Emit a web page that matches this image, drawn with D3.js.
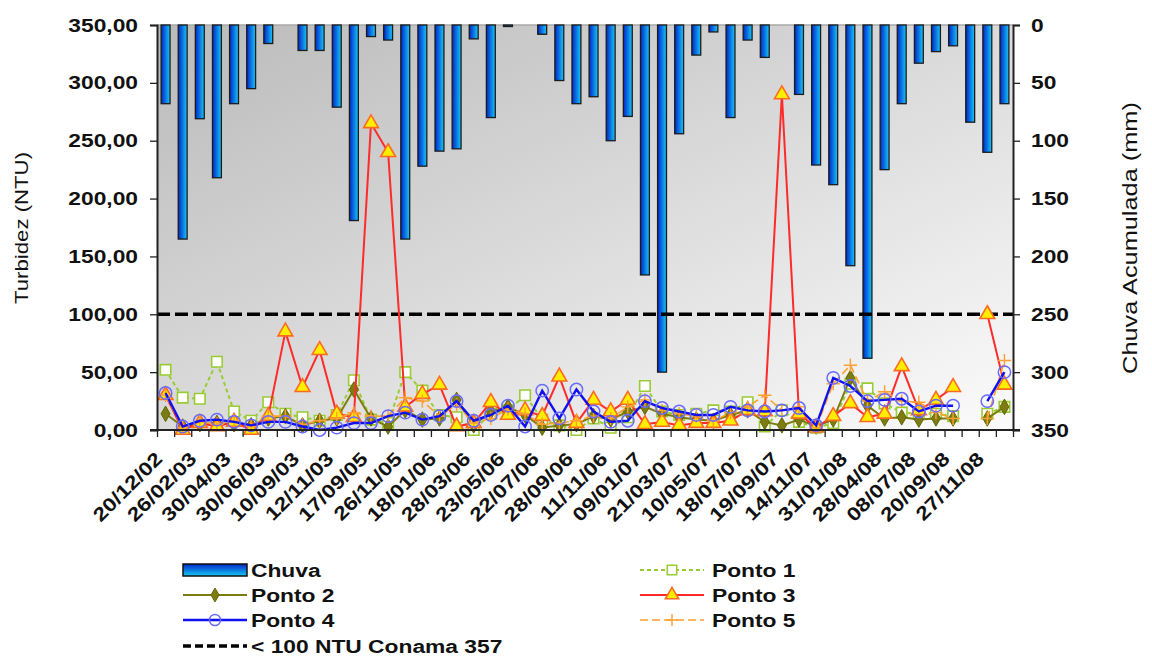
<!DOCTYPE html>
<html>
<head>
<meta charset="utf-8">
<script src="https://cdn.jsdelivr.net/npm/d3@7"></script>
<style>
  body { margin: 0; background: #fff; }
  svg text { font-family: "Liberation Sans", Arial, sans-serif; fill: #111; }
</style>
</head>
<body>
<svg id="chart" width="1152" height="657"></svg>
<script>
// x labels, shown on every second sample
var dates = ["20/12/02","26/02/03","30/04/03","30/06/03","10/09/03","12/11/03","17/09/05","26/11/05",
  "18/01/06","28/03/06","23/05/06","22/07/06","28/09/06","11/11/06","09/01/07","21/03/07","10/05/07",
  "18/07/07","19/09/07","14/11/07","31/01/08","28/04/08","08/07/08","20/09/08","27/11/08"];
var nSamples = 50;
var chuva = [68,185,81,132,68,55,16,0,22,22, 71,169,10,13,185,122,109,107,12,80,
  1,0,8,48,68,62,100,79,216,300, 94,26,6,80,13,28,0,60,121,138,
  208,288,125,68,33,23,18,84,110,68];
var ponto1 = [52,28,27,59,16,8,24,14,11,8, 13,43,9,6,50,34,13,11,0,14,
  17,30,9,4,0,10,2,11,38,16, 13,14,17,16,24,3,17,7,2,6,
  40,36,23,15,14,14,12,null,14,20];
var ponto2 = [14,3,5,6,5,4,10,12,4,8, 10,35,10,3,17,9,10,26,4,16,
  20,13,2,4,5,12,9,16,20,14, 11,9,8,13,17,7,4,9,3,9,
  45,21,10,11,9,10,10,null,10,20];
var ponto3 = [30,0,6,3,7,0,12,85,37,69, 14,11,265,240,20,31,39,3,6,24,
  13,17,12,46,6,26,16,26,5,7, 4,6,6,8,17,16,290,14,2,12,
  23,11,14,55,17,26,37,null,100,39];
var ponto4 = [32,3,8,9,7,4,7,7,3,0, 2,6,6,12,15,9,12,25,8,13,
  21,3,34,10,35,16,7,8,25,19, 16,13,13,20,17,16,17,19,4,45,
  38,25,26,27,16,21,21,null,25,50];
var ponto5 = [30,2,7,5,8,3,12,12,5,8, 10,15,12,12,28,25,12,22,6,10,
  18,14,5,6,8,12,10,20,26,17, 14,12,8,15,20,30,17,20,2,40,
  56,25,33,25,24,15,10,null,10,60];
var limite = 100;
var turbTicks = [0,50,100,150,200,250,300,350];
var chuvaTicks = [0,50,100,150,200,250,300,350];

(function(){
var svg = d3.select("#chart");
var pl = 157, pr = 1013, pt = 25, pb = 430;
var sx = 1.2; // reference text is stretched wide

var x = d3.scaleBand().domain(d3.range(nSamples)).range([pl, pr]);
var xEdge = d3.scaleLinear().domain([0, nSamples]).range([pl, pr]);
var yL = d3.scaleLinear().domain([0, 350]).range([pb, pt]);
var yR = d3.scaleLinear().domain([0, 350]).range([pt, pb]);
var fmt = function(d){ return d3.format(".2f")(d).replace(".", ","); };

var defs = svg.append("defs");
var bg = defs.append("linearGradient").attr("id","bg").attr("x1",0).attr("y1",0).attr("x2",1).attr("y2",1);
bg.append("stop").attr("offset","0%").attr("stop-color","#bababa");
bg.append("stop").attr("offset","100%").attr("stop-color","#fbfbfb");
var bar = defs.append("linearGradient").attr("id","bar").attr("x1",0).attr("y1",0).attr("x2",1).attr("y2",0);
bar.append("stop").attr("offset","0%").attr("stop-color","#0028c8");
bar.append("stop").attr("offset","45%").attr("stop-color","#0a6ee0");
bar.append("stop").attr("offset","100%").attr("stop-color","#18c8f4");
var barV = defs.append("linearGradient").attr("id","barV").attr("x1",0).attr("y1",0).attr("x2",0).attr("y2",1);
barV.append("stop").attr("offset","0%").attr("stop-color","#0028c8");
barV.append("stop").attr("offset","100%").attr("stop-color","#18c8f4");

svg.append("rect").attr("x",pl).attr("y",pt).attr("width",pr-pl).attr("height",pb-pt)
  .attr("fill","url(#bg)");
svg.append("line").attr("x1",pl).attr("x2",pr).attr("y1",pt).attr("y2",pt)
  .attr("stroke","#a8a8a8").attr("stroke-width",1.5);

// rain bars hang from the top (right axis reversed)
var bw = x.bandwidth()*0.52;
var rain = chuva.map(function(v,i){ return {i:i, v:v}; }).filter(function(d){ return d.v > 0; });
svg.append("g").selectAll("rect").data(rain).enter().append("rect")
  .attr("x", function(d){ return x(d.i) + (x.bandwidth()-bw)/2; })
  .attr("y", yR(0))
  .attr("width", bw)
  .attr("height", function(d){ return Math.max(1.5, yR(d.v)-yR(0)); })
  .attr("fill","url(#bar)").attr("stroke","#1b1b1b").attr("stroke-width",1.3);

// limit line
svg.append("line").attr("x1",pl).attr("x2",pr).attr("y1",yL(limite)).attr("y2",yL(limite))
  .attr("stroke","#000").attr("stroke-width",3.5).attr("stroke-dasharray","13,5");

function cx(i){ return x(i) + x.bandwidth()/2; }
function addSeries(data, cfg) {
  var pts = data.map(function(v,i){ return {i:i, v:v}; });
  var line = d3.line().defined(function(d){ return d.v != null; })
    .x(function(d){ return cx(d.i); }).y(function(d){ return yL(d.v); });
  var g = svg.append("g");
  g.append("path").datum(pts).attr("d", line).attr("fill","none")
    .attr("stroke", cfg.color).attr("stroke-width", cfg.width)
    .attr("stroke-dasharray", cfg.dash || null);
  g.selectAll("path.m").data(pts.filter(function(d){ return d.v != null; })).enter()
    .append("path").attr("class","m")
    .attr("transform", function(d){ return "translate(" + cx(d.i) + "," + yL(d.v) + ")"; })
    .attr("d", d3.symbol().type(cfg.symbol).size(cfg.size))
    .attr("fill", cfg.fill).attr("stroke", cfg.stroke).attr("stroke-width", cfg.sw);
  return g;
}
var plus = { draw: function(ctx, size){ var r = Math.sqrt(size)*0.7; ctx.moveTo(-r,0); ctx.lineTo(r,0); ctx.moveTo(0,-r); ctx.lineTo(0,r); } };
var styles = {
  p1: {color:"#99cc33", width:2, dash:"4,3", symbol:d3.symbolSquare, size:110, fill:"#fff", stroke:"#99cc33", sw:1.6},
  p2: {color:"#7c7c10", width:2, symbol:d3.symbolDiamond, size:70, fill:"#7c7c10", stroke:"#66660a", sw:1},
  p3: {color:"#ff2a2a", width:2, symbol:d3.symbolTriangle, size:95, fill:"#ffee00", stroke:"#ff6a20", sw:1.6},
  p4: {color:"#1010f0", width:2.4, symbol:d3.symbolCircle, size:120, fill:"none", stroke:"#6a6aff", sw:1.5},
  p5: {color:"#ffa030", width:1.6, dash:"8,4", symbol:plus, size:90, fill:"none", stroke:"#ffa030", sw:1.4}
};
addSeries(ponto1, styles.p1);
addSeries(ponto2, styles.p2);
addSeries(ponto3, styles.p3);
addSeries(ponto5, styles.p5);
addSeries(ponto4, styles.p4);

// axes
function axisStyle(g){
  g.selectAll(".domain").attr("stroke","#222").attr("stroke-width",2);
  g.selectAll(".tick line").attr("stroke","#222").attr("stroke-width",1.3);
}
var axL = svg.append("g").attr("transform","translate(" + pl + ",0)")
  .call(d3.axisLeft(yL).tickValues(turbTicks).tickFormat(fmt).tickSize(7).tickPadding(12)).call(axisStyle);
axL.selectAll("text").attr("font-size",19).attr("font-weight","bold")
  .attr("transform","scale(" + sx + ",1)").attr("x", -19/sx).attr("fill","#111");
var axR = svg.append("g").attr("transform","translate(" + pr + ",0)")
  .call(d3.axisRight(yR).tickValues(chuvaTicks).tickSize(7).tickPadding(12)).call(axisStyle);
axR.selectAll("text").attr("font-size",19).attr("font-weight","bold")
  .attr("transform","scale(" + sx + ",1)").attr("x", 18/sx).attr("fill","#111");
var axB = svg.append("g").attr("transform","translate(0," + pb + ")")
  .call(d3.axisBottom(xEdge).tickValues(d3.range(nSamples+1)).tickFormat("").tickSize(7).tickSizeOuter(0))
  .call(axisStyle);
axB.select(".domain").attr("d","M" + (pl-7) + ",0H" + (pr+7));
var axLab = svg.append("g").attr("transform","translate(0," + pb + ")")
  .call(d3.axisBottom(x).tickSize(0).tickFormat(function(i){ return i % 2 ? "" : dates[i/2]; }));
axLab.select(".domain").remove();
axLab.selectAll("text").attr("y",0).attr("dy",0).attr("text-anchor","end")
  .attr("font-size",19).attr("font-weight","bold").attr("fill","#111")
  .attr("transform","translate(-2,30) rotate(-45) scale(" + sx + ",1)");

// axis titles
svg.append("text").attr("transform","translate(28,228) rotate(-90) scale(" + sx + ",1)")
  .attr("text-anchor","middle").attr("font-size",18.5).text("Turbidez (NTU)");
svg.append("text").attr("transform","translate(1137,238) rotate(-90) scale(1.3,1)")
  .attr("text-anchor","middle").attr("font-size",19.5).text("Chuva Acumulada (mm)");

// legend
var lg = svg.append("g");
function legendText(xp, yp, s){
  lg.append("text").attr("transform","translate(" + xp + "," + (yp+7) + ") scale(" + sx + ",1)")
    .attr("font-size",19).attr("font-weight","bold").text(s);
}
function legendLine(x0, yp, cfg){
  lg.append("line").attr("x1",x0).attr("x2",x0+64).attr("y1",yp).attr("y2",yp)
    .attr("stroke",cfg.color).attr("stroke-width",cfg.width).attr("stroke-dasharray",cfg.dash || null);
  lg.append("path").attr("transform","translate(" + (x0+32) + "," + yp + ")")
    .attr("d", d3.symbol().type(cfg.symbol).size(cfg.size*0.8))
    .attr("fill",cfg.fill).attr("stroke",cfg.stroke).attr("stroke-width",cfg.sw);
}
var c1 = 183, c2 = 640, rows = [570, 595, 620, 646];
lg.append("rect").attr("x",c1).attr("y",rows[0]-6).attr("width",64).attr("height",12)
  .attr("fill","url(#barV)").attr("stroke","#111").attr("stroke-width",1.5);
legendText(c1+68, rows[0], "Chuva");
legendLine(c1, rows[1], styles.p2); legendText(c1+68, rows[1], "Ponto 2");
legendLine(c1, rows[2], styles.p4); legendText(c1+68, rows[2], "Ponto 4");
lg.append("line").attr("x1",c1).attr("x2",c1+64).attr("y1",rows[3]).attr("y2",rows[3])
  .attr("stroke","#000").attr("stroke-width",3.5).attr("stroke-dasharray","8,4");
legendText(c1+68, rows[3], "< 100 NTU Conama 357");
legendLine(c2, rows[0], styles.p1); legendText(c2+72, rows[0], "Ponto 1");
legendLine(c2, rows[1], styles.p3); legendText(c2+72, rows[1], "Ponto 3");
legendLine(c2, rows[2], styles.p5); legendText(c2+72, rows[2], "Ponto 5");
})();
</script>
</body>
</html>
